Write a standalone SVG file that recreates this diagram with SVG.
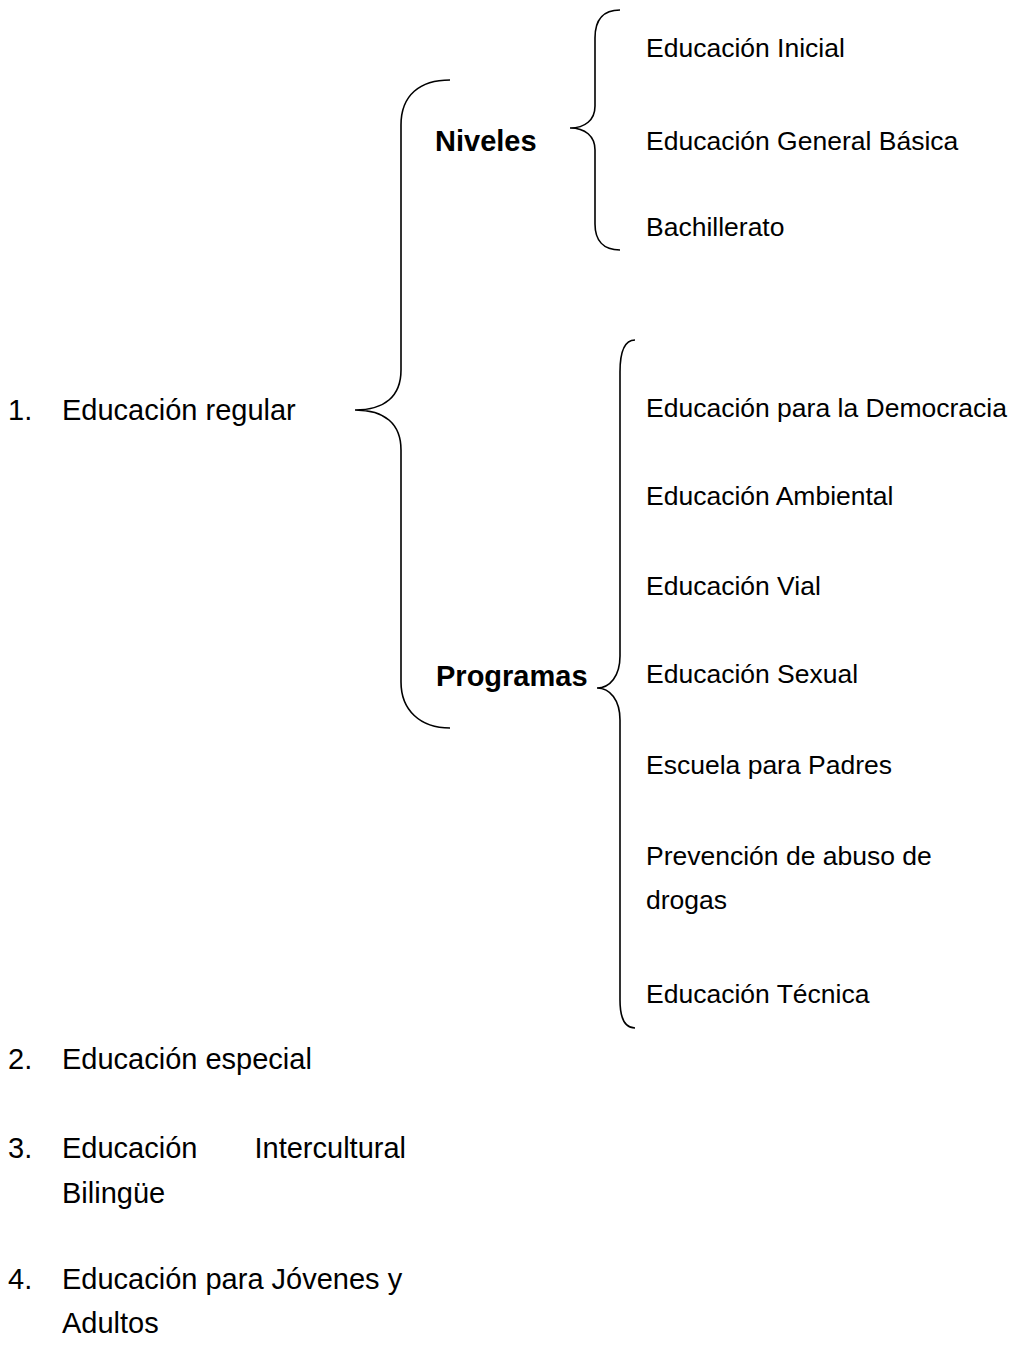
<svg xmlns="http://www.w3.org/2000/svg" width="1019" height="1345" viewBox="0 0 1019 1345">
<style>
text{font-family:"Liberation Sans",Arial,sans-serif;fill:#000}
.l{font-size:29px}
.r{font-size:26.5px}
.b{font-size:29px;font-weight:bold}
.brace{fill:none;stroke:#000;stroke-width:1.6}
</style>
<rect width="1019" height="1345" fill="#fff"/>
<g id="connectors">
<path class="brace" d="M450,80 C420,80 401,95 401,125 L401,370 C401,396 385,410 355,410 C385,410 401,424 401,450 L401,682 C401,710 420,728 450,728"/>
<path class="brace" d="M620,10 C603,10 595,20 595,38 L595,106 C595,120 585,128 570,128 C585,128 595,136 595,150 L595,224 C595,240 603,250 620,250"/>
<path class="brace" d="M635,340 C625,340 620,352 620,372 L620,656 C620,676 610,688 597,688 C610,688 620,700 620,720 L620,1000 C620,1018 625,1028 635,1028"/>
</g>
<g id="n1"><text class="l" x="8" y="420">1.</text><text class="l" x="62" y="420">Educación regular</text></g>
<g id="niveles"><text class="b" x="435" y="151">Niveles</text></g>
<g id="programas"><text class="b" x="436" y="686">Programas</text></g>
<g id="inicial"><text class="r" x="646" y="57">Educación Inicial</text></g>
<g id="basica"><text class="r" x="646" y="150">Educación General Básica</text></g>
<g id="bach"><text class="r" x="646" y="236">Bachillerato</text></g>
<g id="democracia"><text class="r" x="646" y="417">Educación para la Democracia</text></g>
<g id="ambiental"><text class="r" x="646" y="505">Educación Ambiental</text></g>
<g id="vial"><text class="r" x="646" y="595">Educación Vial</text></g>
<g id="sexual"><text class="r" x="646" y="683">Educación Sexual</text></g>
<g id="padres"><text class="r" x="646" y="774">Escuela para Padres</text></g>
<g id="drogas"><text class="r" x="646" y="865">Prevención de abuso de</text><text class="r" x="646" y="909">drogas</text></g>
<g id="tecnica"><text class="r" x="646" y="1003">Educación Técnica</text></g>
<g id="n2"><text class="l" x="8" y="1069">2.</text><text class="l" x="62" y="1069">Educación especial</text></g>
<g id="n3"><text class="l" x="8" y="1158">3.</text><text class="l" x="62" y="1158">Educación</text><text class="l" x="406" y="1158" text-anchor="end">Intercultural</text><text class="l" x="62" y="1203">Bilingüe</text></g>
<g id="n4"><text class="l" x="8" y="1289">4.</text><text class="l" x="62" y="1289">Educación para Jóvenes y</text><text class="l" x="62" y="1333">Adultos</text></g>
</svg>
